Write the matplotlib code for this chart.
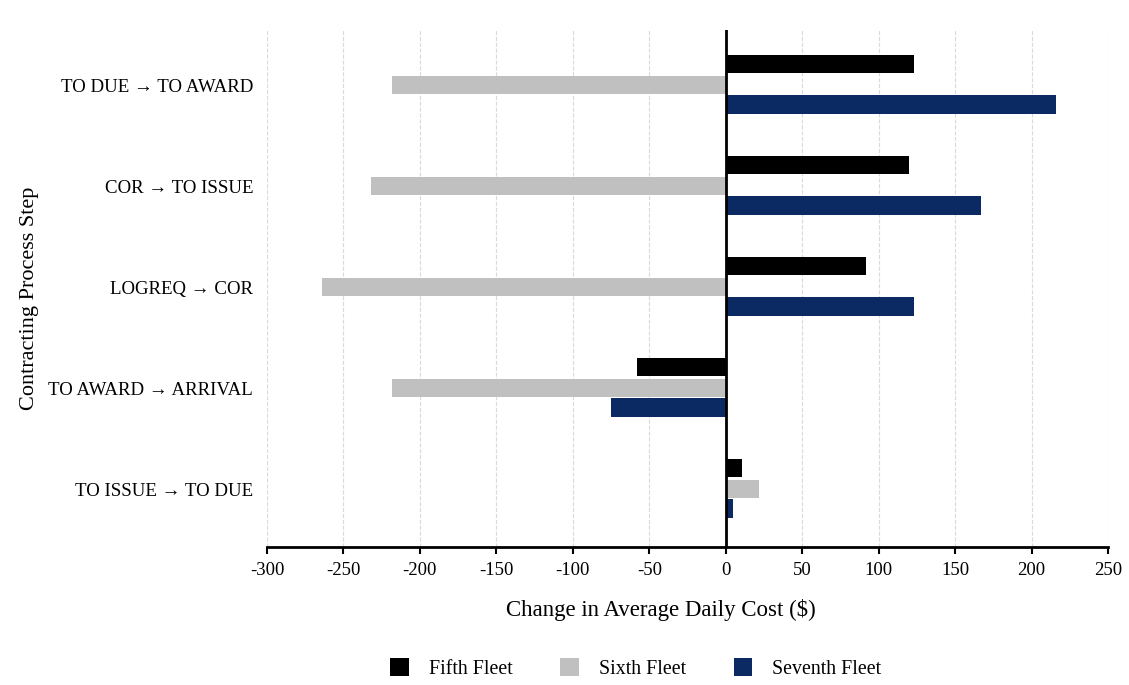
import numpy as np
import matplotlib
matplotlib.use("Agg")
import matplotlib.pyplot as plt

plt.rcParams['font.family'] = ['Liberation Serif', 'DejaVu Serif']

# categories listed bottom to top
steps = ['TO ISSUE \u2192 TO DUE', 'TO AWARD \u2192 ARRIVAL', 'LOGREQ \u2192 COR',
         'COR \u2192 TO ISSUE', 'TO DUE \u2192 TO AWARD']
fifth = [10.7, -58, 92, 120, 123]
sixth = [21.7, -218, -264, -232, -218]
seventh = [4.6, -75, 123, 167, 216]
fleets = ['Fifth Fleet', 'Sixth Fleet', 'Seventh Fleet']
colors = ['#000000', '#c0c0c0', '#0b2a63']
xticks = list(range(-300, 251, 50))

fig = plt.figure(figsize=(11.29, 6.85), dpi=100)
ax = fig.add_axes([0.2365, 0.2015, 0.745, 0.755])

y = np.arange(len(steps))
h = 0.18
offsets = [0.21, 0.0, -0.19]
for vals, off, c, name in zip([fifth, sixth, seventh], offsets, colors, fleets):
    ax.barh(y + off, vals, height=h, color=c, label=name, zorder=3)

ax.set_xlim(-300, 250)
ax.set_ylim(-0.57, 4.55)
ax.set_xticks(xticks)
ax.set_xticklabels([str(t) for t in xticks], fontsize=13.5)
ax.set_yticks(y)
ax.set_yticklabels(steps, fontsize=13.6)
ax.tick_params(axis='y', length=0, pad=10)
ax.tick_params(axis='x', length=5, width=1.5, direction='out', pad=6)

ax.axvline(0, color='black', linewidth=2, zorder=4)
ax.grid(axis='x', linestyle='--', color='#dadada', linewidth=0.8, zorder=0)
for s in ['top', 'right', 'left']:
    ax.spines[s].set_visible(False)
ax.spines['bottom'].set_linewidth(2)

ax.set_xlabel('Change in Average Daily Cost ($)', fontsize=16.5)
ax.xaxis.set_label_coords(0.468, -0.10)
ax.set_ylabel('Contracting Process Step', fontsize=16)
ax.yaxis.set_label_coords(-0.271, 0.48)

fig.legend(loc='center', bbox_to_anchor=(0.563, 0.024), ncol=3, frameon=False,
           fontsize=14.3, handlelength=0.95, handleheight=1.0, columnspacing=2.4,
           handletextpad=1.0)

fig.savefig('out.png', dpi=100, facecolor='white')
